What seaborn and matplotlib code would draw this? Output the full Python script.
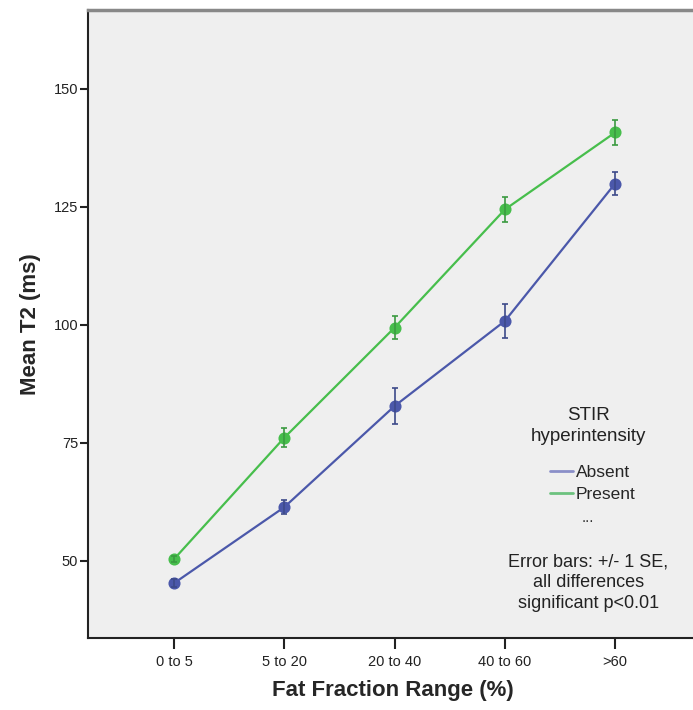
import matplotlib
matplotlib.use("Agg")
import matplotlib.pyplot as plt
import seaborn as sns
import pandas as pd
from matplotlib.lines import Line2D

categories = ["0 to 5", "5 to 20", "20 to 40", "40 to 60", ">60"]
groups = ["Absent", "Present"]
absent_mean = [45.3, 61.4, 82.8, 100.8, 129.9]
absent_se = [0.8, 1.5, 3.8, 3.7, 2.5]
present_mean = [50.4, 76.1, 99.4, 124.4, 140.7]
present_se = [0.7, 2.0, 2.5, 2.7, 2.6]
y_ticks = [50, 75, 100, 125, 150]

sns.set_theme(style="white")
plt.rcParams['font.family'] = ['Liberation Sans', 'DejaVu Sans']

df = pd.DataFrame({
    "range": categories * 2,
    "group": [groups[0]] * 5 + [groups[1]] * 5,
    "mean": absent_mean + present_mean,
    "se": absent_se + present_se,
})

line_cols = {"Absent": "#4b58aa", "Present": "#47be4c"}
err_cols = {"Absent": "#3d4a8a", "Present": "#3a9a40"}
leg_cols = {"Absent": "#8a8fc8", "Present": "#6cc27e"}

fig = plt.figure(figsize=(6.93, 7.10), dpi=100)
ax = fig.add_axes([0.127, 0.1014, 0.88, 0.885])
ax.set_facecolor('#efefef')

sns.pointplot(data=df, x="range", y="mean", hue="group", order=categories,
              hue_order=groups, palette=line_cols, errorbar=None,
              markers="o", linestyles="-", markersize=7.5, linewidth=1.6,
              legend=False, ax=ax)

for g in groups:
    sub = df[df["group"] == g].set_index("range").loc[categories]
    ax.errorbar(range(len(categories)), sub["mean"], yerr=sub["se"], fmt='none',
                ecolor=err_cols[g], elinewidth=1.2, capsize=2.5, capthick=1.2, zorder=5)

ax.set_xlim(-0.78, 4.75)
ax.set_ylim(33.7, 166.7)
ax.set_yticks(y_ticks)
ax.set_yticklabels([str(v) for v in y_ticks], fontsize=10.5, color='#222222')
ax.set_xticks(range(len(categories)))
ax.set_xticklabels(categories, fontsize=10.5, color='#222222')
ax.tick_params(axis='y', direction='out', length=6, width=1.5, color='#222222', pad=1, left=True)
ax.tick_params(axis='x', direction='out', length=8, width=1.5, color='#222222', pad=4, bottom=True)

ax.set_xlabel("Fat Fraction Range (%)", fontsize=16, fontweight='bold', labelpad=8)
ax.set_ylabel("Mean T2 (ms)", fontsize=16, fontweight='bold', labelpad=9)

for s in ['left', 'bottom']:
    ax.spines[s].set_color('#222222')
    ax.spines[s].set_linewidth(1.5)
ax.spines['top'].set_color('#888888')
ax.spines['top'].set_linewidth(2.5)
ax.spines['right'].set_visible(False)

ax.text(0.82, 0.338, "STIR\nhyperintensity", transform=ax.transAxes, ha='center',
        va='center', fontsize=13.5, linespacing=1.3, color='#222222')
handles = [Line2D([0], [0], color=leg_cols[g], lw=2) for g in groups]
ax.legend(handles, groups, loc='center', bbox_to_anchor=(0.828, 0.246),
          frameon=False, fontsize=12.5, handlelength=1.3, handletextpad=0.15,
          labelspacing=0.35, borderpad=0, borderaxespad=0)

ax.text(0.82, 0.191, "...", transform=ax.transAxes, ha='center', va='center',
        fontsize=11, color='#333333')
ax.text(0.82, 0.0876, "Error bars: +/- 1 SE,\nall differences\nsignificant p<0.01",
        transform=ax.transAxes, ha='center', va='center', fontsize=13,
        linespacing=1.3, color='#222222')

fig.savefig("out.png", dpi=100)
